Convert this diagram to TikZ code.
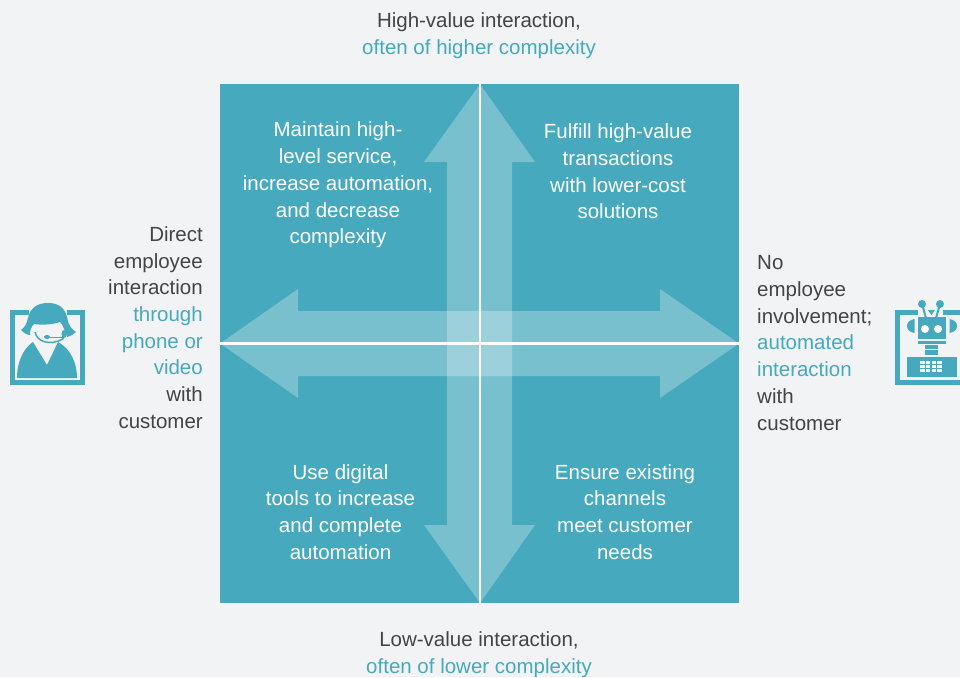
\documentclass[tikz,border=0pt]{standalone}
\usepackage{fontspec}
\setmainfont{Liberation Sans}
\definecolor{pagegray}{HTML}{F2F3F5}
\definecolor{teal}{HTML}{46A9BD}
\definecolor{inktext}{HTML}{444446}
\tikzset{
  caption/.style={align=center,text=inktext,font=\fontsize{20.5}{26.7}\selectfont,inner sep=0pt},
  sidetext/.style={caption,align=flush right,anchor=east},
  task/.style={caption,text=white},
  overlay/.style={fill=white,fill opacity=0.27},
  divider/.style={draw=white,line width=2.8pt},
  icon/.style={fill=teal,draw=none}
}
\newcommand{\tl}[1]{\textcolor{teal}{#1}}
\begin{document}
\begin{tikzpicture}[x=1pt,y=-1pt]
  \path[use as bounding box,fill=pagegray] (0,0) rectangle (960,677);

  \node (board) at (479.5,343.5) [fill=teal,minimum size=519pt,inner sep=0pt] {};

  % arrows
  \fill[overlay] (480,84) -- (535,162) -- (512,162) -- (512,525) -- (535,525) -- (480,603) -- (424,525) -- (447,525) -- (447,162) -- (424,162) -- cycle;
  \fill[overlay] (220,343.5) -- (298,289) -- (298,311) -- (660,311) -- (660,289) -- (739,343.5) -- (660,398) -- (660,376) -- (298,376) -- (298,398) -- cycle;

  \draw[divider] ([xshift=0.5pt]board.north) -- ([xshift=0.5pt]board.south);
  \draw[divider] (board.west) -- (board.east);

  \node (top) at (479,36) [caption] {High-value interaction,\\\tl{often of higher complexity}};
  \node (bottom) at (479,655) [caption] {Low-value interaction,\\\tl{often of lower complexity}};

  \node (left) at (203,327.5) [sidetext] {Direct\\employee\\interaction\\\tl{through}\\\tl{phone or}\\\tl{video}\\with\\customer};
  \node (right) at (757,343) [caption,align=flush left,anchor=west] {No\\employee\\involvement;\\\tl{automated}\\\tl{interaction}\\with\\customer};

  \node (maintain) at (338,185) [task] {Maintain high-\\level service,\\increase automation,\\and decrease\\complexity};
  \node (fulfill) at (618,171.5) [task] {Fulfill high-value\\transactions\\with lower-cost\\solutions};
  \node (digital) at (340.5,512) [task] {Use digital\\tools to increase\\and complete\\automation};
  \node (ensure) at (625,512) [task] {Ensure existing\\channels\\meet customer\\needs};

  % agent icon
  \draw[teal,line width=5pt] (29,312.5) -- (12.5,312.5) -- (12.5,382.5) -- (82.5,382.5) -- (82.5,312.5) -- (67,312.5);
  \fill[icon] (17,378) .. controls (17,360) and (25,347) .. (33,342) -- (47,365) -- (58,342) .. controls (68,347) and (77,360) .. (77,378) -- cycle;
  \fill[icon] (48,303) .. controls (36,303) and (30,309) .. (28,318) .. controls (27,324) and (24,328) .. (21,330) .. controls (24,333) and (27,335) .. (30,335) .. controls (30,330) and (31,327) .. (34,324) .. controls (40,325) and (52,325) .. (60,322) .. controls (63,325) and (65,331) .. (67,337) .. controls (71,336) and (74,334) .. (76,332) .. controls (71,329) and (68,324) .. (67,317) .. controls (65,309) and (60,303) .. (48,303) -- cycle;
  \draw[teal,line width=1.5pt] (35,332) .. controls (37,342) and (50,346) .. (63,339) -- (65,332);
  \draw[teal,line width=1pt] (47,337) -- (64,337);
  \fill[icon] (47,337) ellipse (3pt and 2pt);
  \fill[icon] (64,334) ellipse (2.5pt and 4pt);

  % robot icon
  \draw[teal,line width=5pt] (918,312.5) -- (897.5,312.5) -- (897.5,382.5) -- (962,382.5);
  \draw[teal,line width=5pt] (943,312.5) -- (962,312.5);
  \fill[icon] (922,304) circle (4pt);
  \fill[icon] (940,304) circle (4pt);
  \draw[teal,line width=2pt] (922,304) -- (926,318);
  \draw[teal,line width=2pt] (940,304) -- (936,318);
  \fill[icon] (928,310) -- (935,310) -- (931.5,315) -- cycle;
  \fill[icon] (918,317) rectangle (946,339);
  \fill[white] (925,329) circle (4pt);
  \fill[white] (938,329) circle (4pt);
  \fill[icon] (914.5,319) .. controls (909,320) and (907,323) .. (907,326) .. controls (907,329) and (909,332) .. (914.5,333) -- cycle;
  \fill[icon] (949.5,319) .. controls (955,320) and (957,323) .. (957,326) .. controls (957,329) and (955,332) .. (949.5,333) -- cycle;
  \fill[icon] (918,341) rectangle (946,344);
  \fill[icon] (925,345) rectangle (938,349);
  \fill[icon] (925,350) rectangle (938,355);
  \fill[icon] (907,357) rectangle (957,377);
  \fill[white] (920,361) rectangle (942,372);
  \draw[teal,line width=1.2pt] (925.5,361) -- (925.5,372);
  \draw[teal,line width=1.2pt] (931,361) -- (931,372);
  \draw[teal,line width=1.2pt] (936.5,361) -- (936.5,372);
  \draw[teal,line width=1.2pt] (920,364.7) -- (942,364.7);
  \draw[teal,line width=1.2pt] (920,368.3) -- (942,368.3);
\end{tikzpicture}
\end{document}
